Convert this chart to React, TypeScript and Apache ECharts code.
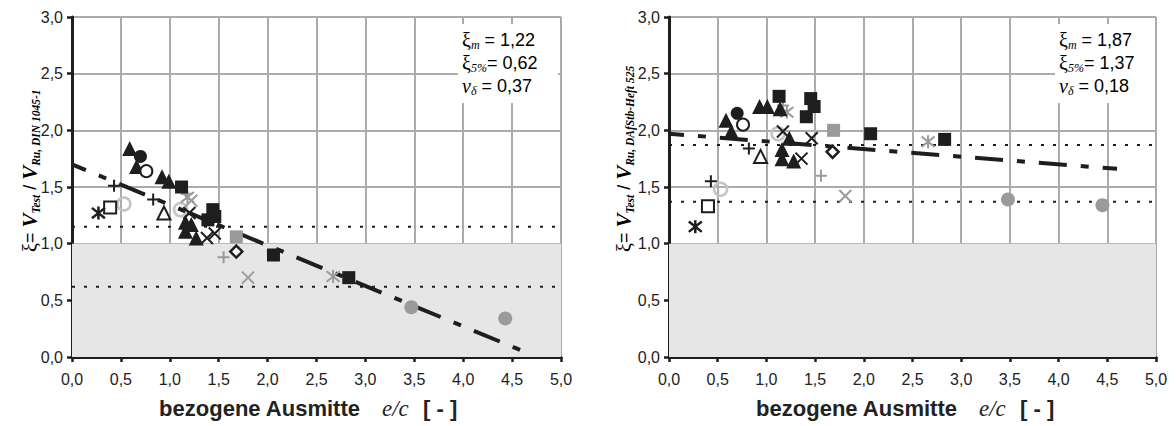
import React, { useEffect, useRef } from "react";
import * as echarts from "echarts";

// ---------- Data: left chart (V_Ru, DIN 1045-1) ----------
const triFilledL = [[0.59, 1.84], [0.66, 1.68], [0.92, 1.59], [0.99, 1.55], [1.16, 1.19], [1.22, 1.17], [1.16, 1.11], [1.27, 1.05]];
const circFilledL = [[0.7, 1.77]];
const circOpenL = [[0.76, 1.64]];
const circLightL = [[0.53, 1.35], [1.11, 1.3]];
const sqFilledL = [[1.12, 1.5], [1.44, 1.3], [1.46, 1.24], [1.39, 1.21], [2.06, 0.9], [2.83, 0.7]];
const sqOpenL = [[0.39, 1.32]];
const triOpenL = [[0.94, 1.27]];
const diamOpenL = [[1.68, 0.93]];
const sqGrayL = [[1.68, 1.06]];
const circGrayL = [[3.47, 0.44], [4.43, 0.34]];
const plusL = [[0.43, 1.51], [0.83, 1.39]];
const plusGrayL = [[1.17, 1.44], [1.55, 0.88]];
const crossL = [[1.2, 1.27], [1.38, 1.05], [1.46, 1.09]];
const crossGrayL = [[1.22, 1.38], [1.8, 0.7]];
const starL = [[0.27, 1.27]];
const starGrayL = [[1.18, 1.41], [2.67, 0.71]];
const trendL = [[0, 1.7], [4.7, 0.02]];
const limitsL = [1.15, 0.62];
const statsL = ["1,22", "0,62", "0,37"];

// ---------- Data: right chart (V_Ru, DAfStb-Heft 525) ----------
const triFilledR = [[0.585, 2.09], [0.64, 1.99], [0.93, 2.21], [1.01, 2.21], [1.14, 2.19], [1.235, 1.93], [1.16, 1.83], [1.16, 1.75], [1.28, 1.73]];
const circFilledR = [[0.7, 2.15]];
const circOpenR = [[0.76, 2.05]];
const circLightR = [[0.53, 1.48], [1.12, 1.97]];
const sqFilledR = [[1.13, 2.3], [1.455, 2.28], [1.49, 2.21], [1.41, 2.12], [2.07, 1.97], [2.83, 1.92]];
const sqOpenR = [[0.4, 1.33]];
const triOpenR = [[0.94, 1.77]];
const diamOpenR = [[1.68, 1.81]];
const sqGrayR = [[1.69, 2.0]];
const circGrayR = [[3.48, 1.39], [4.45, 1.34]];
const plusR = [[0.43, 1.55], [0.82, 1.84]];
const plusGrayR = [[1.17, 2.22], [1.56, 1.6]];
const crossR = [[1.17, 1.99], [1.36, 1.75], [1.465, 1.93]];
const crossGrayR = [[1.81, 1.42]];
const starR = [[0.27, 1.15]];
const starGrayR = [[1.21, 2.16], [2.66, 1.9]];
const trendR = [[0, 1.97], [4.6, 1.66]];
const limitsR = [1.87, 1.37];
const statsR = ["1,87", "1,37", "0,18"];

const X_MIN = 0, X_MAX = 5, Y_MIN = 0, Y_MAX = 3, STEP = 0.5;
const SHADE = [0, 1];

const BLACK = "#1e1e1e";
const GRAY = "#9a9a9a";
const LIGHT = "#c4c4c4";
const P_PLUS = "path://M0,5L10,5M5,0L5,10";
const P_CROSS = "path://M0,0L10,10M10,0L0,10";
const P_STAR = "path://M1,1L9,9M9,1L1,9M5,0L5,10";

const fmt = (v: number) => v.toFixed(1).replace(".", ",");
const SANS = "'Liberation Sans', Arial, sans-serif";
const SERIF = "'Liberation Serif', 'Times New Roman', serif";

function axes(gi: number) {
  const line = { show: true, onZero: false, lineStyle: { color: BLACK, width: 3 } };
  const tick = { show: true, inside: false, length: 5, lineStyle: { color: BLACK, width: 2.5 } };
  const split = { show: true, lineStyle: { color: "#ababab", width: 2 } };
  return {
    x: {
      type: "value", gridIndex: gi, min: X_MIN, max: X_MAX, interval: STEP,
      axisLine: line, axisTick: tick, splitLine: split,
      axisLabel: { formatter: fmt, fontSize: 16, color: "#222", fontFamily: SANS, margin: 14 },
    },
    y: {
      type: "value", gridIndex: gi, min: Y_MIN, max: Y_MAX, interval: STEP,
      axisLine: line, axisTick: tick, splitLine: split,
      axisLabel: { formatter: fmt, fontSize: 16, color: "#222", fontFamily: SANS, margin: 9 },
    },
  };
}

function sc(gi: number, data: number[][], symbol: string, size: number, fill: string, stroke?: string, bw = 2) {
  return {
    type: "scatter", xAxisIndex: gi, yAxisIndex: gi, data, symbol, symbolSize: size, z: 5,
    itemStyle: { color: fill, borderColor: stroke || fill, borderWidth: stroke ? bw : 0, opacity: 1 },
    silent: true,
  };
}

function chartSeries(gi: number, d: any) {
  const s: any[] = [];
  s.push({
    type: "line", xAxisIndex: gi, yAxisIndex: gi, data: [], z: -5, silent: true,
    markArea: { silent: true, itemStyle: { color: "#e6e6e6" }, data: [[{ xAxis: X_MIN, yAxis: SHADE[0] }, { xAxis: X_MAX, yAxis: SHADE[1] }]] },
  });
  d.limits.forEach((v: number) => {
    s.push({
      type: "line", xAxisIndex: gi, yAxisIndex: gi, data: [[X_MIN, v], [X_MAX, v]], showSymbol: false, z: 3, silent: true,
      lineStyle: { color: BLACK, width: 2, type: [3, 9] },
    });
  });
  s.push({
    type: "line", xAxisIndex: gi, yAxisIndex: gi, data: d.trend, showSymbol: false, z: 4, silent: true,
    lineStyle: { color: BLACK, width: 4, type: [28, 14, 8, 14], dashOffset: 13 },
  });
  s.push(sc(gi, d.circLight, "circle", 13, "none", LIGHT, 2.5));
  s.push(sc(gi, d.circGray, "circle", 14, GRAY));
  s.push(sc(gi, d.sqGray, "rect", 13, GRAY));
  s.push(sc(gi, d.plusGray, P_PLUS, 12, "none", GRAY, 2));
  s.push(sc(gi, d.crossGray, P_CROSS, 12, "none", GRAY, 2));
  s.push(sc(gi, d.starGray, P_STAR, 13, "none", GRAY, 2));
  s.push(sc(gi, d.triFilled, "triangle", 15, BLACK));
  s.push(sc(gi, d.circFilled, "circle", 13, BLACK));
  s.push(sc(gi, d.circOpen, "circle", 12, "#fff", BLACK, 2));
  s.push(sc(gi, d.sqFilled, "rect", 13, BLACK));
  s.push(sc(gi, d.sqOpen, "rect", 12, "#fff", BLACK, 2));
  s.push(sc(gi, d.triOpen, "triangle", 13, "#fff", BLACK, 2));
  s.push(sc(gi, d.diamOpen, "diamond", 12, "#fff", BLACK, 2.5));
  s.push(sc(gi, d.plus, P_PLUS, 12, "none", BLACK, 2));
  s.push(sc(gi, d.cross, P_CROSS, 12, "none", BLACK, 2));
  s.push(sc(gi, d.star, P_STAR, 13, "none", BLACK, 2.5));
  return s;
}

function statsBox(x: number, vals: string[]) {
  return [
    { type: "rect", shape: { x: x - 4, y: 24, width: 100, height: 79 }, style: { fill: "#fff" }, z: 20, silent: true },
    {
      type: "text", x, y: 28, z: 21, silent: true,
      style: {
        text: `{g|ξ}{s|m}{e| = ${vals[0]}}\n{g|ξ}{s|5%}{e|= ${vals[1]}}\n{n|ν}{s|δ}{e| = ${vals[2]}}`,
        align: "left", verticalAlign: "top",
        rich: {
          g: { fontFamily: SERIF, fontSize: 20, color: "#222", lineHeight: 23 },
          n: { fontFamily: SERIF, fontSize: 20, fontStyle: "italic", color: "#222", lineHeight: 23 },
          s: { fontFamily: SERIF, fontSize: 12, fontStyle: "italic", color: "#222", lineHeight: 14, verticalAlign: "bottom" },
          e: { fontFamily: SANS, fontSize: 18, color: "#222", lineHeight: 23 },
        },
      },
    },
  ];
}

function yTitle(x: number, sub: string) {
  return {
    type: "text", x, y: 252, rotation: Math.PI / 2, z: 21, silent: true,
    style: {
      text: `{g|ξ}{e|= }{v|V}{s|Test}{e| / }{v|V}{s|${sub}}`,
      align: "left", verticalAlign: "middle",
      rich: {
        g: { fontFamily: SERIF, fontSize: 20, color: "#222", lineHeight: 24 },
        e: { fontFamily: SANS, fontSize: 18, color: "#222", lineHeight: 24 },
        v: { fontFamily: SERIF, fontSize: 21, fontStyle: "italic", fontWeight: "bold", color: "#222", lineHeight: 24 },
        s: { fontFamily: SERIF, fontSize: 11.5, fontStyle: "italic", fontWeight: "bold", color: "#222", lineHeight: 14, verticalAlign: "bottom" },
      },
    },
  };
}

function xTitle(offset: number) {
  return [
    { type: "text", x: 957 + offset, y: 408, z: 21, silent: true, style: { text: "bezogene Ausmitte", align: "right", verticalAlign: "middle", fontFamily: SANS, fontWeight: "bold", fontSize: 22, fill: "#222" } },
    { type: "text", x: 979 + offset, y: 408, z: 21, silent: true, style: { text: "e/c", align: "left", verticalAlign: "middle", fontFamily: SERIF, fontStyle: "italic", fontSize: 23, fill: "#222" } },
    { type: "text", x: 1020 + offset, y: 408, z: 21, silent: true, style: { text: "[ - ]", align: "left", verticalAlign: "middle", fontFamily: SANS, fontWeight: "bold", fontSize: 22, fill: "#222" } },
  ];
}

export default function App() {
  const ref = useRef<HTMLDivElement>(null);
  useEffect(() => {
    document.body.style.margin = "0";
    const chart = echarts.init(ref.current!, undefined, { renderer: "svg" });
    const a0 = axes(0), a1 = axes(1);
    const L = { triFilled: triFilledL, circFilled: circFilledL, circOpen: circOpenL, circLight: circLightL, sqFilled: sqFilledL, sqOpen: sqOpenL, triOpen: triOpenL, diamOpen: diamOpenL, sqGray: sqGrayL, circGray: circGrayL, plus: plusL, plusGray: plusGrayL, cross: crossL, crossGray: crossGrayL, star: starL, starGray: starGrayL, trend: trendL, limits: limitsL };
    const R = { triFilled: triFilledR, circFilled: circFilledR, circOpen: circOpenR, circLight: circLightR, sqFilled: sqFilledR, sqOpen: sqOpenR, triOpen: triOpenR, diamOpen: diamOpenR, sqGray: sqGrayR, circGray: circGrayR, plus: plusR, plusGray: plusGrayR, cross: crossR, crossGray: crossGrayR, star: starR, starGray: starGrayR, trend: trendR, limits: limitsR };
    chart.setOption({
      animation: false,
      backgroundColor: "#fff",
      grid: [
        { left: 72, top: 17, width: 489, height: 340 },
        { left: 669, top: 17, width: 487, height: 340 },
      ],
      xAxis: [a0.x, a1.x],
      yAxis: [a0.y, a1.y],
      series: [...chartSeries(0, L), ...chartSeries(1, R)],
      graphic: [
        ...statsBox(462, statsL),
        ...statsBox(1059, statsR),
        yTitle(30, "Ru, DIN 1045-1"),
        yTitle(624, "Ru, DAfStb-Heft 525"),
        ...xTitle(-597),
        ...xTitle(0),
      ],
    });
    return () => chart.dispose();
  }, []);
  return <div ref={ref} style={{ width: 1176, height: 426 }} />;
}
